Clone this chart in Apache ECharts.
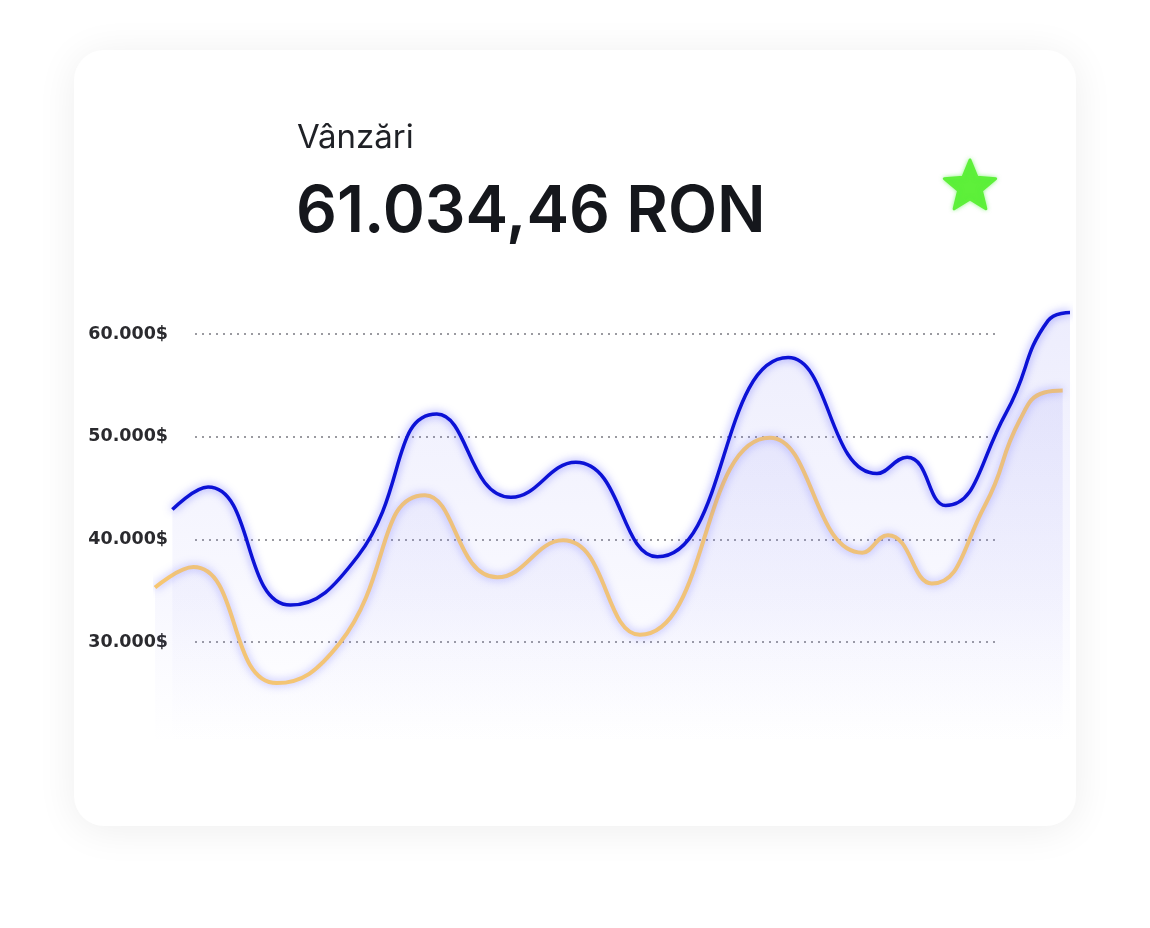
<!DOCTYPE html>
<html>
<head>
<meta charset="utf-8">
<script src="https://cdn.jsdelivr.net/npm/echarts@6/dist/echarts.min.js"></script>
<style>
html,body{margin:0;padding:0;background:#ffffff;}
#c{width:1150px;height:928px;}
</style>
</head>
<body>
<div id="c"></div>
<script>
// ---- data ----
const titleLabel = 'Vânzări';
const totalLabel = '61.034,46 RON';
const yTicks = [30000, 40000, 50000, 60000];
// x positions are in "period" units (0..100) along the timeline
const blueX   = [1.9, 5.8, 14.8, 22.2, 30.8, 38.9, 46.0, 54.9, 69.2, 78.9, 82.2, 86.4, 93.0, 97.6, 100];
const blueY   = [42900, 45100, 33600, 38400, 52200, 44100, 47500, 38300, 57700, 46400, 48000, 43300, 52300, 61300, 62100];
const orangeX = [0, 4.2, 13.3, 20.2, 29.5, 37.4, 44.6, 53.0, 67.2, 77.3, 80.1, 84.9, 90.7, 94.5, 97.2, 99.2];
const orangeY = [35300, 37300, 26000, 29900, 44300, 36300, 39900, 30700, 49900, 38700, 40400, 35700, 43300, 51600, 54300, 54500];

const fmt = v => (v/1000).toFixed(0) + '.000$';
const zip = (xs, ys) => xs.map((x, i) => [x, ys[i]]);

const chart = echarts.init(document.getElementById('c'), null, {renderer: 'canvas'});

// star decoration
function starPoints(cx, cy, R, r){
  const pts = [];
  for (let i = 0; i < 10; i++){
    const a = -Math.PI/2 + i*Math.PI/5;
    const rad = i % 2 === 0 ? R : r;
    pts.push([cx + rad*Math.cos(a), cy + rad*Math.sin(a)]);
  }
  return pts;
}

const yMin = 20000, yMax = 70000;
const gridTop = 231.3, gridHeight = 513.4;
const pxPerUnit = gridHeight / (yMax - yMin);
const tickMin = yTicks[0], tickMax = yTicks[yTicks.length - 1];

const areaGrad = (a1, a2) => new echarts.graphic.LinearGradient(0, 0, 0, 1, [
  {offset: 0, color: 'rgba(115,115,238,' + a1 + ')'},
  {offset: 0.6, color: 'rgba(135,135,245,' + a2 + ')'},
  {offset: 1, color: 'rgba(160,160,250,0)'}
]);

chart.setOption({
  animation: false,
  backgroundColor: '#ffffff',
  graphic: [
    {type: 'rect', z: -10, shape: {x: 74, y: 50, width: 1002, height: 776, r: 30},
     style: {fill: '#ffffff', shadowColor: 'rgba(0,0,0,0.07)', shadowBlur: 40, shadowOffsetY: 4}},
    {type: 'text', z: 10, style: {text: titleLabel, x: 297, y: 138, fill: '#1f2126',
      font: '400 33px Inter', verticalAlign: 'middle'}},
    {type: 'text', z: 10, style: {text: totalLabel, x: 296, y: 213, fill: '#15171c',
      font: '600 64px Inter', verticalAlign: 'middle'}},
    {type: 'polygon', z: 10, shape: {points: starPoints(970, 187, 27, 12)},
     style: {fill: '#5ef03a', shadowColor: 'rgba(80,240,60,0.5)', shadowBlur: 4, lineJoin: 'round', stroke: '#5ef03a', lineWidth: 3}}
  ],
  grid: [
    {left: 195, right: 155, top: gridTop + (yMax - tickMax) * pxPerUnit, height: (tickMax - tickMin) * pxPerUnit},
    {left: 155, right: 80, top: gridTop, height: gridHeight}
  ],
  xAxis: [
    {type: 'value', gridIndex: 0, min: 0, max: 100, show: false},
    {type: 'value', gridIndex: 1, min: 0, max: 100, show: false}
  ],
  yAxis: [
    {type: 'value', gridIndex: 0, min: tickMin, max: tickMax, interval: 10000,
     axisLine: {show: false}, axisTick: {show: false},
     axisLabel: {margin: 27, color: '#2a2a2e', fontSize: 17.5, fontWeight: 'bold', fontFamily: 'DejaVu Sans',
       formatter: v => fmt(v)},
     splitLine: {show: true, lineStyle: {color: '#9a9aa0', width: 2, type: [2, 5]}}
    },
    {type: 'value', gridIndex: 1, min: yMin, max: yMax, show: false, splitLine: {show: false}}
  ],
  series: [
    {type: 'line', xAxisIndex: 1, yAxisIndex: 1, data: zip(orangeX, orangeY), smooth: 0.5,
     symbol: 'none', z: 3,
     lineStyle: {color: '#f6c672', width: 4, shadowColor: 'rgba(90,90,255,0.5)', shadowBlur: 8},
     areaStyle: {color: areaGrad(0.16, 0.09)}},
    {type: 'line', xAxisIndex: 1, yAxisIndex: 1, data: zip(blueX, blueY), smooth: 0.5,
     symbol: 'none', z: 4,
     lineStyle: {color: '#0c12d6', width: 3.5, shadowColor: 'rgba(60,60,255,0.6)', shadowBlur: 8},
     areaStyle: {color: areaGrad(0.19, 0.09)}}
  ]
});
</script>
</body>
</html>
